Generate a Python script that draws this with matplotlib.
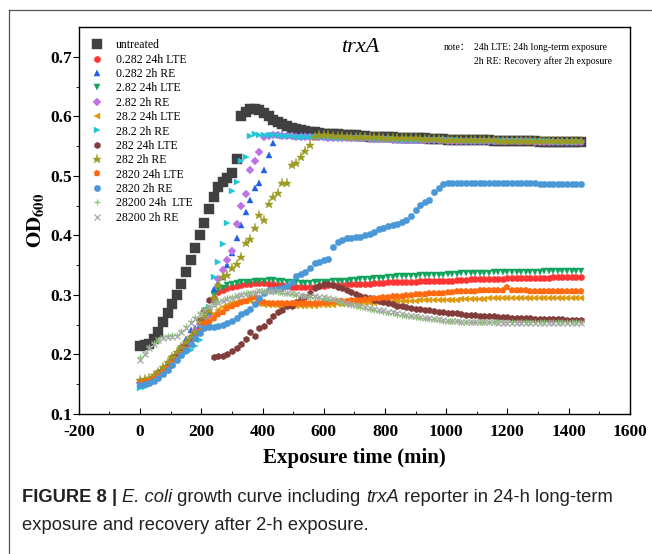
import matplotlib
matplotlib.use("Agg")
import matplotlib.pyplot as plt
from matplotlib.lines import Line2D

plt.rcParams['font.family'] = ['Liberation Serif', 'DejaVu Serif']
plt.rcParams['mathtext.fontset'] = 'stix'
plt.rcParams['axes.unicode_minus'] = False

# sampling times (min)
time = list(range(0, 1441, 15))

labels = ["untreated", "0.282 24h LTE", "0.282 2h RE", "2.82 24h LTE", "2.82 2h RE",
          "28.2 24h LTE", "28.2 2h RE", "282 24h LTE", "282 2h RE", "2820 24h LTE",
          "2820 2h RE", "28200 24h  LTE", "28200 2h RE"]

untreated = [.215, .216, .218, .226, .238, .254, .270, .285,
             .300, .318, .338, .358, .379, .400, .421, .445,
             .465, .481, .490, .497, .505, .528, .600, .607,
             .612, .613, .611, .606, .600, .594, .590, .587,
             .584, .581, .579, .577, .575, .574, .573, .572,
             .571, .571, .570, .570, .569, .569, .568, .568,
             .567, .567, .566, .566, .566, .565, .565, .565,
             .564, .564, .564, .563, .563, .563, .563, .562,
             .562, .562, .562, .561, .561, .561, .561, .561,
             .560, .560, .560, .560, .560, .559, .559, .559,
             .559, .559, .558, .558, .558, .558, .558, .557,
             .557, .557, .557, .557, .556, .556, .556, .556,
             .556]
lte_0282 = [.153, .154, .156, .160, .166, .173, .181, .190,
            .199, .208, .217, .227, .236, .246, .256, .270,
            .295, .305, .308, .311, .313, .315, .317, .318,
            .319, .320, .320, .320, .319, .318, .317, .316,
            .315, .314, .314, .313, .313, .314, .314, .315,
            .315, .316, .316, .317, .317, .318, .318, .318,
            .319, .319, .319, .320, .320, .320, .321, .321,
            .321, .322, .322, .322, .322, .323, .323, .323,
            .323, .324, .324, .324, .324, .325, .325, .325,
            .326, .326, .326, .326, .327, .327, .327, .327,
            .328, .328, .328, .328, .328, .329, .329, .329,
            .329, .329, .330, .330, .330, .330, .330, .330,
            .330]
re_0282 = [.150, .151, .153, .158, .165, .172, .180, .189,
           .198, .210, .226, .241, .245, .248, .250, .253,
           .310, .320, .330, .350, .370, .395, .418, .440,
           .460, .480, .488, .510, .535, .555, .568, .570,
           .569, .569, .568, .568, .568, .567, .567, .567,
           .566, .566, .566, .565, .565, .565, .564, .564,
           .564, .564, .563, .563, .563, .563, .562, .562,
           .562, .562, .561, .561, .561, .561, .561, .560,
           .560, .560, .560, .560, .560, .559, .559, .559,
           .559, .559, .559, .559, .559, .558, .558, .558,
           .558, .558, .558, .558, .558, .558, .558, .558,
           .557, .557, .557, .557, .557, .557, .557, .557,
           .557]
lte_282 = [.150, .151, .153, .157, .163, .170, .178, .187,
           .196, .205, .214, .224, .233, .242, .252, .265,
           .300, .310, .312, .316, .318, .320, .321, .322,
           .322, .323, .324, .324, .325, .325, .324, .323,
           .322, .321, .321, .320, .320, .320, .321, .321,
           .322, .322, .323, .323, .324, .324, .325, .325,
           .326, .326, .327, .328, .328, .329, .330, .330,
           .331, .331, .332, .332, .332, .333, .333, .333,
           .334, .334, .334, .335, .335, .335, .336, .336,
           .336, .337, .337, .337, .337, .338, .338, .338,
           .338, .338, .339, .339, .339, .339, .339, .339,
           .340, .340, .340, .340, .340, .340, .340, .340,
           .340]
re_282 = [.152, .153, .156, .160, .166, .173, .181, .190,
          .199, .208, .217, .226, .240, .251, .258, .262,
          .290, .327, .342, .359, .374, .419, .450, .470,
          .510, .525, .540, .565, .567, .568, .568, .567,
          .567, .567, .566, .566, .566, .565, .565, .565,
          .565, .564, .564, .564, .564, .563, .563, .563,
          .563, .563, .562, .562, .562, .562, .562, .561,
          .561, .561, .561, .561, .561, .560, .560, .560,
          .560, .560, .560, .559, .559, .559, .559, .559,
          .559, .559, .559, .558, .558, .558, .558, .558,
          .558, .558, .558, .558, .558, .558, .557, .557,
          .557, .557, .557, .557, .557, .557, .557, .557,
          .557]
lte_28_2 = [.149, .150, .152, .156, .162, .168, .176, .184,
            .192, .200, .208, .217, .226, .236, .246, .258,
            .268, .274, .279, .283, .286, .288, .289, .290,
            .289, .286, .284, .283, .283, .283, .282, .282,
            .282, .282, .282, .282, .282, .282, .282, .283,
            .283, .283, .283, .284, .284, .285, .285, .286,
            .286, .286, .287, .287, .288, .288, .289, .289,
            .289, .289, .290, .290, .290, .291, .291, .291,
            .291, .292, .292, .292, .292, .292, .293, .293,
            .293, .293, .293, .293, .294, .294, .294, .294,
            .294, .294, .294, .294, .295, .295, .295, .295,
            .295, .295, .295, .295, .295, .295, .295, .295,
            .295]
re_28_2 = [.144, .146, .149, .155, .162, .168, .175, .183,
           .190, .196, .202, .208, .215, .225, .245, .280,
           .330, .355, .385, .420, .475, .490, .525, .532,
           .567, .570, .569, .569, .568, .568, .568, .567,
           .567, .567, .566, .566, .566, .566, .565, .565,
           .565, .565, .564, .564, .564, .564, .563, .563,
           .563, .563, .563, .562, .562, .562, .562, .562,
           .561, .561, .561, .561, .561, .561, .560, .560,
           .560, .560, .560, .560, .560, .560, .559, .559,
           .559, .559, .559, .559, .559, .559, .559, .558,
           .558, .558, .558, .558, .558, .558, .558, .558,
           .558, .558, .557, .557, .557, .557, .557, .557,
           .557]
lte_2820_282 = [.156, .157, .159, .164, .170, .178, .186, .195,
                .203, .212, .220, .229, .236, .258, .275, .292,
                .196, .197, .198, .200, .205, .211, .218, .226,
                .238, .231, .244, .248, .256, .265, .271, .275,
                .282, .282, .288, .293, .297, .304, .311, .315,
                .318, .318, .317, .314, .311, .309, .305, .302,
                .299, .297, .295, .292, .290, .288, .287, .285,
                .282, .281, .279, .278, .277, .276, .275, .274,
                .273, .272, .271, .270, .270, .269, .268, .267,
                .267, .266, .265, .265, .264, .264, .263, .263,
                .263, .262, .262, .261, .261, .261, .260, .260,
                .260, .260, .259, .259, .259, .258, .258, .258,
                .258]
re_2820_282 = [.157, .158, .160, .165, .170, .179, .187, .196,
               .204, .213, .221, .230, .237, .255, .265, .275,
               .295, .317, .330, .334, .345, .352, .364, .387,
               .394, .413, .434, .426, .453, .465, .472, .488,
               .488, .518, .522, .532, .542, .552, .565, .568,
               .568, .568, .567, .567, .567, .566, .566, .566,
               .566, .565, .565, .565, .565, .564, .564, .564,
               .564, .563, .563, .563, .563, .562, .562, .562,
               .562, .562, .561, .561, .561, .561, .561, .561,
               .560, .560, .560, .560, .560, .560, .559, .559,
               .559, .559, .559, .559, .559, .559, .558, .558,
               .558, .558, .558, .558, .558, .558, .558, .558,
               .558]
lte_2820 = [.152, .153, .155, .159, .164, .170, .177, .185,
            .193, .201, .209, .218, .228, .240, .253, .255,
            .262, .268, .272, .278, .281, .285, .288, .290,
            .296, .297, .290, .288, .287, .287, .287, .287,
            .287, .287, .286, .286, .287, .287, .287, .287,
            .288, .288, .289, .289, .290, .290, .291, .291,
            .292, .293, .293, .294, .295, .296, .297, .298,
            .298, .299, .300, .300, .301, .302, .302, .303,
            .303, .304, .304, .305, .305, .306, .306, .307,
            .307, .307, .308, .308, .308, .309, .309, .309,
            .314, .308, .308, .308, .308, .307, .307, .307,
            .307, .307, .307, .307, .306, .307, .307, .307,
            .307]
re_2820 = [.149, .150, .152, .156, .161, .167, .174, .182,
           .190, .199, .208, .218, .228, .236, .244, .246,
           .246, .248, .250, .253, .257, .261, .268, .271,
           .276, .284, .294, .303, .308, .309, .310, .311,
           .315, .322, .331, .335, .338, .346, .354, .356,
           .358, .360, .381, .389, .392, .395, .396, .397,
           .398, .400, .403, .405, .410, .413, .415, .417,
           .419, .422, .426, .433, .443, .451, .456, .460,
           .473, .480, .486, .488, .488, .488, .488, .488,
           .488, .488, .488, .488, .488, .488, .488, .488,
           .488, .488, .488, .488, .488, .488, .488, .487,
           .487, .487, .487, .487, .487, .487, .487, .487,
           .487]
lte_28200 = [.195, .203, .212, .219, .225, .229, .231, .232,
             .233, .240, .248, .256, .263, .270, .277, .282,
             .285, .289, .292, .295, .297, .299, .301, .303,
             .304, .305, .306, .306, .306, .305, .305, .304,
             .303, .302, .300, .299, .298, .297, .296, .295,
             .294, .293, .291, .289, .287, .285, .283, .281,
             .279, .278, .276, .275, .273, .272, .270, .269,
             .267, .266, .265, .264, .263, .262, .261, .260,
             .259, .258, .257, .257, .256, .256, .255, .255,
             .255, .255, .254, .254, .254, .254, .254, .254,
             .254, .254, .254, .254, .254, .254, .254, .254,
             .254, .254, .254, .254, .254, .254, .254, .254,
             .254]
re_28200 = [.190, .200, .211, .218, .224, .228, .230, .230,
            .231, .238, .245, .253, .260, .268, .275, .280,
            .283, .287, .290, .293, .295, .298, .300, .302,
            .303, .304, .306, .307, .307, .306, .306, .305,
            .304, .303, .301, .300, .299, .298, .298, .297,
            .296, .295, .293, .291, .289, .287, .285, .283,
            .281, .280, .278, .277, .275, .274, .272, .271,
            .269, .268, .266, .265, .264, .263, .262, .261,
            .260, .259, .258, .257, .256, .256, .255, .255,
            .255, .254, .254, .254, .254, .254, .253, .253,
            .253, .253, .253, .253, .253, .253, .253, .253,
            .253, .253, .253, .253, .253, .253, .253, .253,
            .253]

series = [untreated, lte_0282, re_0282, lte_282, re_282, lte_28_2, re_28_2,
          lte_2820_282, re_2820_282, lte_2820, re_2820, lte_28200, re_28200]
colors = ['#404040', '#ff3535', '#1f5fe0', '#12a35e', '#bd72e6', '#dd9a10', '#20c6d6',
          '#823c3c', '#9c9c22', '#ff6a10', '#4a98d8', '#80d060', '#a8a8a8']
markers = ['s', 'o', '^', 'v', 'D', '<', '>', 'h', '*', 'p', 'o', '+', 'x']
sizes = [7.5, 4.5, 4.8, 4.8, 4.0, 4.8, 4.8, 4.8, 6.5, 5.0, 4.6, 5.0, 4.5]

fig = plt.figure(figsize=(6.52, 5.54), dpi=100)
ax = fig.add_axes([0.121, 0.2527, 0.845, 0.6986])

for y, c, m, s, lab in zip(series, colors, markers, sizes, labels):
    ax.plot(time, y, linestyle='none', marker=m, ms=s, color=c, mec=c,
            mew=0.9 if m in '+x' else 0.3, label=lab)

ax.set_xlim(-200, 1600)
ax.set_ylim(0.1, 0.75)
ax.set_xticks(range(-200, 1601, 200))
ax.set_xticks(range(-100, 1600, 200), minor=True)
ax.set_yticks([0.1, 0.2, 0.3, 0.4, 0.5, 0.6, 0.7])
ax.set_yticks([0.15, 0.25, 0.35, 0.45, 0.55, 0.65], minor=True)
ax.tick_params(axis='x', which='both', direction='in', labelsize=12.5, pad=7)
ax.tick_params(axis='x', which='major', length=4)
ax.tick_params(axis='x', which='minor', length=2.5)
ax.tick_params(axis='y', which='both', direction='out', labelsize=12.5, pad=1)
ax.tick_params(axis='y', which='major', length=4)
ax.tick_params(axis='y', which='minor', length=2.5)
for lab in ax.get_xticklabels() + ax.get_yticklabels():
    lab.set_fontweight('bold')
for sp in ax.spines.values():
    sp.set_linewidth(1.0)

ax.set_xlabel("Exposure time (min)", fontsize=15, fontweight='bold', labelpad=6)
ax.set_ylabel(r"$\mathbf{OD_{600}}$", fontsize=15, labelpad=3)

leg = ax.legend(loc='upper left', bbox_to_anchor=(0.0, 1.0), frameon=False,
                fontsize=8.5, numpoints=1, handlelength=1.0, handletextpad=1.1,
                labelspacing=0.2, borderaxespad=0.6, borderpad=0.45)

ax.text(0.475, 0.935, "trxA", transform=ax.transAxes, fontsize=16, style='italic')
note_kw = dict(transform=ax.transAxes, fontsize=7,
               family=['Liberation Serif', 'Noto Sans CJK SC'])
ax.text(0.663, 0.940, "note：", **note_kw)
ax.text(0.717, 0.940, "24h LTE: 24h long-term exposure", **note_kw)
ax.text(0.717, 0.905, "2h RE: Recovery after 2h exposure", **note_kw)

# outer frame of the figure panel
fig.add_artist(Line2D([0.0138, 1.0], [0.982, 0.982], transform=fig.transFigure,
                      color='#555555', lw=0.9))
fig.add_artist(Line2D([0.0138, 0.0138], [0.0, 0.982], transform=fig.transFigure,
                      color='#555555', lw=0.9))

# caption, written piece by piece for the mixed styles
cap_font = ['Liberation Sans Narrow', 'Liberation Sans', 'DejaVu Sans']
renderer = fig.canvas.get_renderer()
W = fig.get_figwidth() * fig.dpi
pieces = [("FIGURE 8 | ", 'bold', 'normal'), ("E. coli", 'normal', 'italic'),
          (" growth curve including ", 'normal', 'normal'), ("trxA", 'normal', 'italic'),
          (" reporter in 24-h long-term", 'normal', 'normal')]
x = 22 / W
for s, w, st in pieces:
    t = fig.text(x, 1 - 497 / 554, s, fontsize=13.2, fontweight=w, style=st,
                 family=cap_font, color='#222222', va='center')
    x += t.get_window_extent(renderer).width / W
fig.text(22 / W, 1 - 525 / 554, "exposure and recovery after 2-h exposure.", fontsize=13.2,
         family=cap_font, color='#222222', va='center')

fig.savefig("out.png", dpi=100)
